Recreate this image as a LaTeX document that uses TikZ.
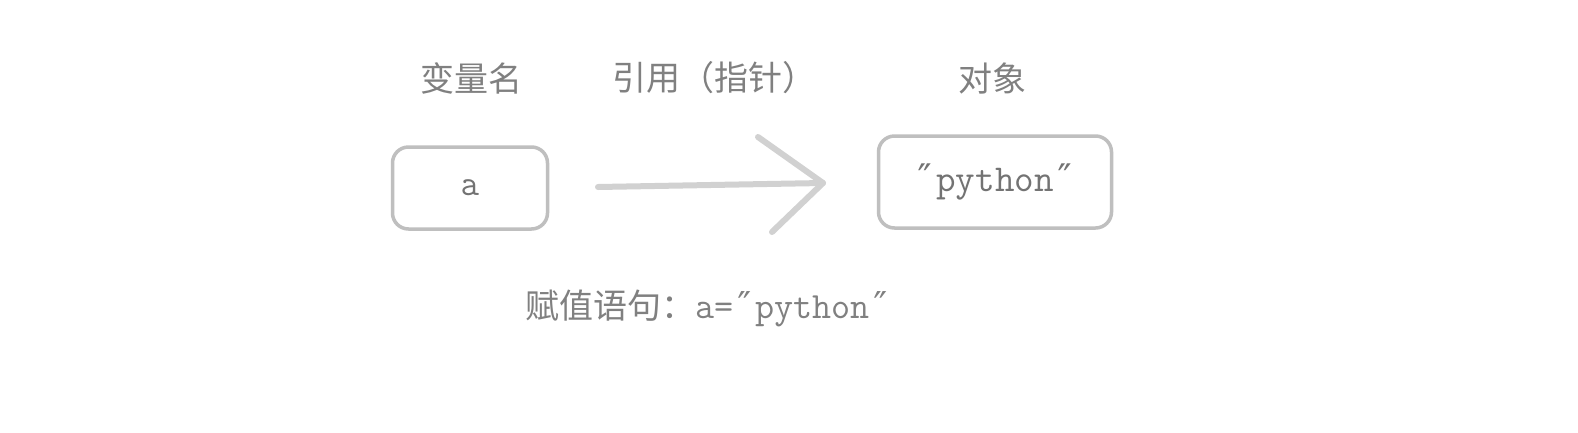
\documentclass[tikz,border=0pt]{standalone}
\usepackage{fontspec}
\setmainfont{Latin Modern Mono}
\newfontfamily\cjk{Noto Sans CJK SC}
\newfontfamily\mono{Latin Modern Mono}
\newfontfamily\dv{DejaVu Sans Mono}
\newcommand{\dq}{{\dv ″}}
\begin{document}
\begin{tikzpicture}[x=1pt,y=-1pt,
  lbl/.style={text=black!50, font=\cjk\fontsize{34}{38}\selectfont, inner sep=0pt},
  box/.style={draw=black!25, line width=3.5pt, rounded corners=16pt, text=black!55, inner sep=0pt},
  fuzzy/.style={draw=black!18, line width=6pt, line cap=round, line join=round}]
\useasboundingbox (0,0) rectangle (1578,432);
\fill[white] (0,0) rectangle (1578,432);
\node[lbl] (n1) at (471,78) {变量名};
\node[lbl] (n2) at (714,78) {引用（指针）};
\node[lbl] (n3) at (992,78) {对象};
\node[box, minimum width=155pt, minimum height=82pt, font=\mono\fontsize{36}{40}\selectfont] (a) at (470,188) {a};
\node[box, minimum width=233pt, minimum height=92pt, font=\mono\fontsize{38}{42}\selectfont] (obj) at (995,182) {\dq python\dq};
\coordinate (s) at (598,187);
\coordinate (t) at (823,183);
\coordinate (h1) at (758,137);
\coordinate (h2) at (772,232);
\draw[fuzzy] (s) -- (t);
\draw[fuzzy] (h1) -- (t) -- (h2);
\node[lbl, anchor=west] (stmt) at (525,308) {赋值语句：\mono\fontsize{37}{40}\selectfont a=\dq python\dq};
\end{tikzpicture}
\end{document}
